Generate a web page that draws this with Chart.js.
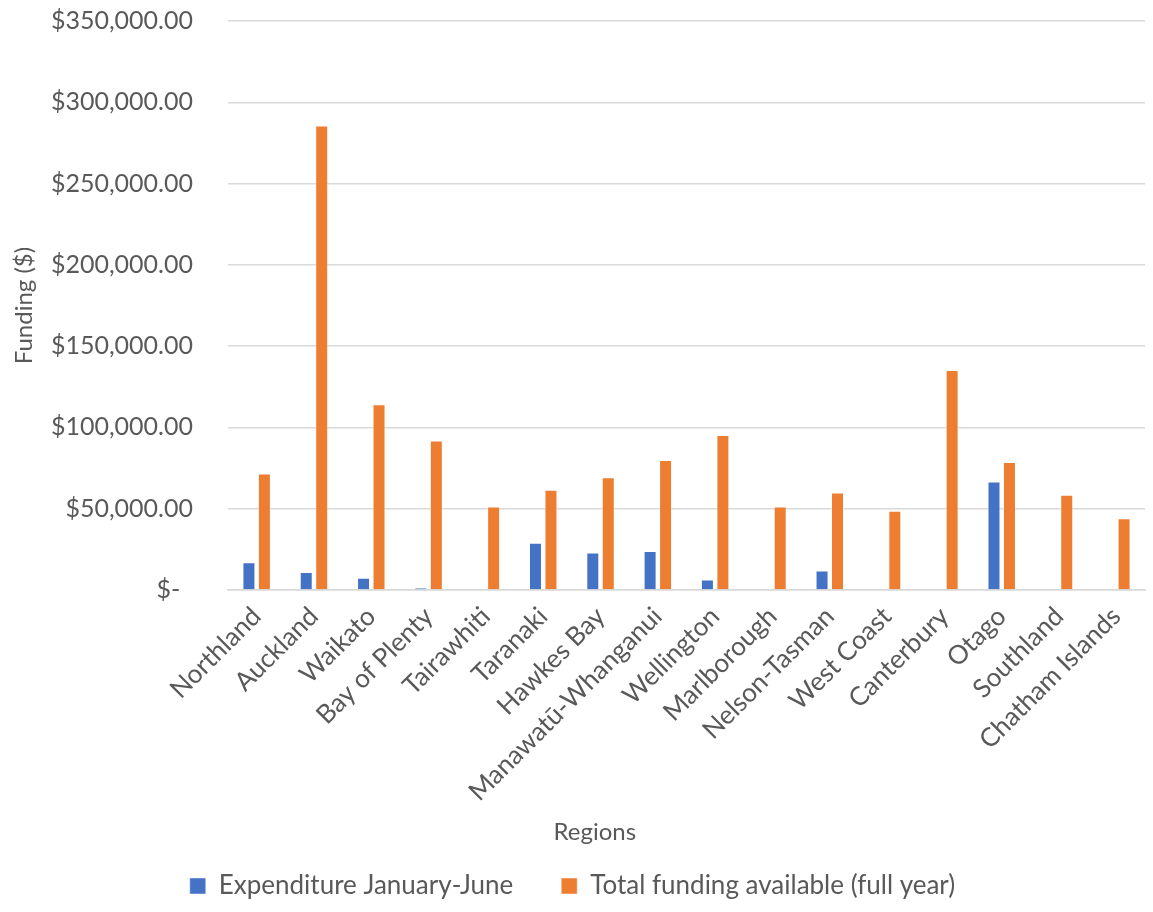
<!DOCTYPE html>
<html>
<head>
<meta charset="utf-8">
<script src="https://cdn.jsdelivr.net/npm/chart.js@4.4.1/dist/chart.umd.min.js"></script>
<style>
  html, body { margin: 0; padding: 0; background: #ffffff; }
  #wrap { width: 1153px; height: 912px; position: relative; }
</style>
</head>
<body>
<div id="wrap"><canvas id="c"></canvas></div>
<script>
const regions = ["Northland", "Auckland", "Waikato", "Bay of Plenty", "Tairawhiti", "Taranaki", "Hawkes Bay", "Manawatū-Whanganui", "Wellington", "Marlborough", "Nelson-Tasman", "West Coast", "Canterbury", "Otago", "Southland", "Chatham Islands"];
const expenditure = [17000, 11000, 7500, 1500, 0, 29000, 23000, 24000, 6500, 0, 12000, 0, 0, 66700, 600, 0];
const totalFunding = [71600, 285700, 114200, 92000, 51400, 61700, 69300, 80000, 95300, 51400, 59900, 48800, 135400, 78800, 58600, 44200];
const seriesNames = ["Expenditure January-June", "Total funding available (full year)"];
const yTitle = "Funding ($)";
const xTitle = "Regions";

const TEXT = "#595959";
const FONT = "Lato";

function fmt(v) {
  if (v === 0) return "$-  ";
  return "$" + v.toLocaleString("en-US", { minimumFractionDigits: 2, maximumFractionDigits: 2 });
}

const xTitlePlugin = {
  id: "xTitlePlugin",
  afterDraw(chart) {
    const ctx = chart.ctx;
    const a = chart.chartArea;
    ctx.save();
    ctx.font = "24px " + FONT;
    ctx.fillStyle = TEXT;
    ctx.textAlign = "center";
    ctx.textBaseline = "middle";
    ctx.fillText(xTitle, a.left + (a.right - a.left) * 0.40, 832);
    ctx.restore();
  }
};

function zeroPad(scale) {
  scale.paddingTop = 0;
  scale.paddingBottom = 0;
  scale.paddingLeft = 0;
  scale.paddingRight = 0;
}

new Chart(document.getElementById("c"), {
  type: "bar",
  data: {
    labels: regions,
    datasets: [
      { label: seriesNames[0], data: expenditure, backgroundColor: "#4472C4", borderColor: "rgba(255,255,255,0.45)", borderWidth: 1, categoryPercentage: 0.54, barPercentage: 0.84 },
      { label: seriesNames[1], data: totalFunding, backgroundColor: "#ED7D31", borderColor: "rgba(255,255,255,0.45)", borderWidth: 1, categoryPercentage: 0.54, barPercentage: 0.84 }
    ]
  },
  options: {
    responsive: true,
    maintainAspectRatio: false,
    animation: false,
    layout: { padding: { top: 21, right: 8, left: 0, bottom: 3 } },
    plugins: {
      legend: {
        position: "bottom",
        labels: { font: { family: FONT, size: 26 }, color: TEXT, boxWidth: 16, boxHeight: 16, padding: 48 }
      },
      tooltip: { enabled: false }
    },
    scales: {
      x: {
        grid: { display: false },
        border: { display: true, color: "#D9D9D9", width: 1.5 },
        ticks: { font: { family: FONT, size: 26 }, color: TEXT, maxRotation: 45, minRotation: 45, autoSkip: false, padding: 3 },
        afterFit(scale) { scale.height = 235; zeroPad(scale); }
      },
      y: {
        min: 0, max: 350000,
        grid: { color: "#D9D9D9", lineWidth: 1.5, drawTicks: false },
        border: { display: false },
        ticks: { stepSize: 50000, font: { family: FONT, size: 25 }, color: TEXT, padding: 35, callback: (v) => fmt(v) },
        title: { display: true, text: yTitle, font: { family: FONT, size: 24 }, color: TEXT, padding: { top: 10, bottom: 0 } },
        afterFit(scale) { scale.width = 228; zeroPad(scale); }
      }
    }
  },
  plugins: [xTitlePlugin]
});
</script>
</body>
</html>
